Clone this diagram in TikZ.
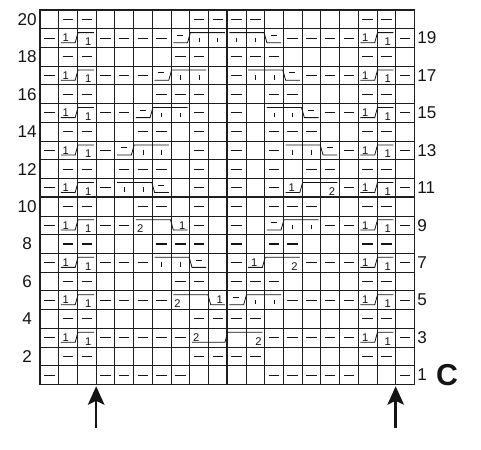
\documentclass[tikz,border=0pt]{standalone}
\usepackage{fontspec}
\setmainfont{Liberation Sans}
\usepackage{tikz}
\usetikzlibrary{arrows.meta,positioning}
\usepackage{xcolor}
\definecolor{chartline}{RGB}{30,30,30}
\definecolor{chartink}{RGB}{20,20,20}
\newcommand{\cablelo}{0.25}
\newcommand{\cablehi}{0.79}
\tikzset{
  gridthin/.style={draw=chartline, line width=0.6pt},
  gridheavy/.style={draw=chartline, line width=1.1pt},
  purlmark/.style={draw=chartink, line width=0.8pt},
  knitmark/.style={draw=chartink, line width=0.6pt},
  cablemark/.style={draw=chartink, line width=0.6pt},
  cabledigit/.style={font=\fontsize{8.5}{9}\selectfont, inner sep=0pt, anchor=base, text=chartink},
  rowlabel/.style={font=\fontsize{13}{15}\selectfont, inner sep=0pt, text=chartink},
  chartletter/.style={font=\fontsize{23}{26}\selectfont\bfseries, inner sep=0pt, text=chartink},
  markarrow/.style={draw=chartink, line width=2pt, -{Stealth[length=14pt, width=12.5pt, inset=3pt]}}
}
\newcommand{\purlat}[2]{\draw[purlmark] ({#1-0.78},{#2-0.5}) -- ({#1-0.22},{#2-0.5});}
\newcommand{\knitat}[2]{\draw[knitmark] ({#1-0.5},{#2-1+0.28}) -- ({#1-0.5},{#2-1+0.52});}
\newcommand{\cpurlat}[2]{\draw[purlmark] ({#1-0.68},{#2-1+0.64}) -- ({#1-0.36},{#2-1+0.64});}
% cable lines: first column, row, cells on the left, cells on the right
\newcommand{\riseat}[4]{\draw[cablemark] ({#1-1+0.12},{#2-1+\cablelo}) -- ({#1-1+#3-0.12},{#2-1+\cablelo}) -- ({#1-1+#3+0.03},{#2-1+\cablehi}) -- ({#1-1+#3+#4-0.12},{#2-1+\cablehi});}
\newcommand{\fallat}[4]{\draw[cablemark] ({#1-1+0.12},{#2-1+\cablehi}) -- ({#1-1+#3-0.03},{#2-1+\cablehi}) -- ({#1-1+#3+0.12},{#2-1+\cablelo}) -- ({#1-1+#3+#4-0.12},{#2-1+\cablelo});}
\newcommand{\crossone}[2]{\riseat{#1}{#2}{1}{1}
  \node[cabledigit] (c#1r#2a) at ({#1-1+0.38},{#2-1+\cablelo+0.05}) {1};
  \node[cabledigit] (c#1r#2b) at ({#1+1-0.42},{#2-1+0.1}) {1};}
\newcommand{\purlleft}[2]{\riseat{#1}{#2}{1}{2}\cpurlat{#1}{#2}\knitat{#1+1}{#2}\knitat{#1+2}{#2}}
\newcommand{\purlright}[2]{\fallat{#1}{#2}{2}{1}\knitat{#1}{#2}\knitat{#1+1}{#2}\cpurlat{#1+2}{#2}}
\newcommand{\onetwo}[2]{\riseat{#1}{#2}{1}{2}
  \node[cabledigit] (c#1r#2a) at ({#1-1+0.45},{#2-1+\cablelo+0.05}) {1};
  \node[cabledigit] (c#1r#2b) at ({#1+2-0.4},{#2-1+0.1}) {2};}
\newcommand{\twoone}[2]{\fallat{#1}{#2}{2}{1}
  \node[cabledigit] (c#1r#2a) at ({#1-1+0.35},{#2-1+0.1}) {2};
  \node[cabledigit] (c#1r#2b) at ({#1+2-0.4},{#2-1+\cablelo+0.05}) {1};}
\newcommand{\twotwo}[2]{\riseat{#1}{#2}{2}{2}
  \node[cabledigit] (c#1r#2a) at ({#1-1+0.35},{#2-1+\cablelo+0.05}) {2};
  \node[cabledigit] (c#1r#2b) at ({#1+3-0.33},{#2-1+0.1}) {2};}

\begin{document}
\begin{tikzpicture}[x=0.5cm, y=0.5cm]
\useasboundingbox (-2.137,-3.472) rectangle (23.558,20.534);
\draw[gridthin, step=1] (0,0) grid (20,20);
\draw[gridheavy] (10,0) -- (10,20) (0,10) -- (20,10);
\draw[gridheavy] (0,0) rectangle (20,20);
% purl stitches, row by row
\foreach \r/\cl in {20/{2,3,9,10,11,12,18,19}, 19/{1,4,5,6,7,14,15,16,17,20},
  18/{2,3,8,9,11,12,13,18,19}, 17/{1,4,5,6,11,15,16,17,20},
  16/{2,3,7,8,9,11,13,14,18,19}, 15/{1,4,5,9,11,16,17,20},
  14/{2,3,6,7,9,11,13,14,15,18,19}, 13/{1,4,9,11,13,17,20},
  12/{2,3,5,6,7,9,11,13,15,16,18,19}, 11/{1,4,9,11,13,17,20},
  10/{2,3,6,7,9,11,13,14,15,18,19}, 9/{1,4,5,9,11,16,17,20},
  8/{2,3,7,8,9,11,13,14,18,19}, 7/{1,4,5,6,11,15,16,17,20},
  6/{2,3,8,9,11,12,13,18,19}, 5/{1,4,5,6,7,14,15,16,17,20},
  4/{2,3,9,10,11,12,18,19}, 3/{1,4,5,6,7,8,13,14,15,16,17,20},
  2/{2,3,9,10,11,12,18,19}, 1/{1,4,5,6,7,8,13,14,15,16,17,20}}
  {\foreach \c in \cl {\purlat{\c}{\r}}}
% cables
\foreach \r in {3,5,...,19} {\crossone{2}{\r}\crossone{18}{\r}}
\purlleft{8}{19} \purlright{11}{19}
\purlleft{7}{17} \purlright{12}{17}
\purlleft{6}{15} \purlright{13}{15}
\purlleft{5}{13} \purlright{14}{13}
\purlright{5}{11} \onetwo{14}{11}
\twoone{6}{9} \purlleft{13}{9}
\purlright{7}{7} \onetwo{12}{7}
\twoone{8}{5} \purlleft{11}{5}
\twotwo{9}{3}
% row numbers
\foreach \r in {2,4,...,20} \node[rowlabel] (left\r) at (-0.69,\r-0.5) {\r};
\foreach \r in {1,3,...,19} \node[rowlabel, anchor=west] (right\r) at (20.15,\r-0.5) {\r};
\node[chartletter] (chartC) at (21.74,0.48) {C};
\coordinate (tailL) at (3,-2.35);
\coordinate (tipL) at (3,-0.1);
\coordinate (tailR) at (19,-2.35);
\coordinate (tipR) at (19,-0.1);
\draw[markarrow] (tailL) -- (tipL);
\draw[markarrow] (tailR) -- (tipR);
\end{tikzpicture}
\end{document}
